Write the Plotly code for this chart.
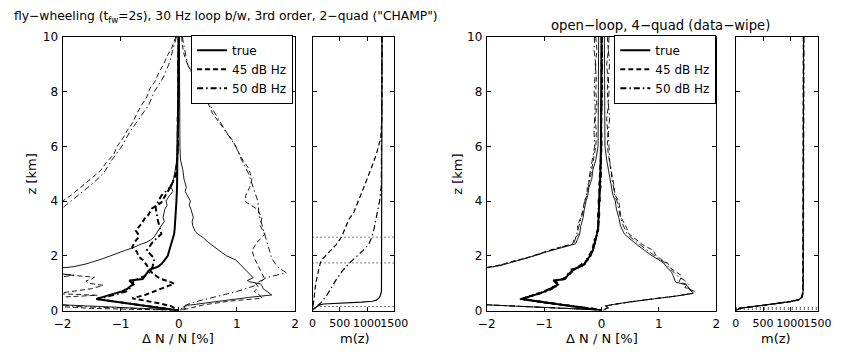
import plotly.graph_objects as go

# ---------------- data: (value, z[km]) pairs ----------------
# Left panel (fly-wheeling), Delta N / N [%]
L_TRUE_MEAN = [(0,10),(0,9.5),(-0.01,9),(0,8.5),(-0.01,8),(-0.01,7.5),(-0.01,7),(-0.02,6.5),(-0.02,6),(-0.02,5.5),
               (-0.02,5),(-0.03,4.5),(-0.04,4),(-0.05,3.5),(-0.06,3.2),(-0.07,3),(-0.08,2.8),(-0.11,2.6),(-0.13,2.4),
               (-0.16,2.2),(-0.19,2),(-0.24,1.85),(-0.3,1.7),(-0.36,1.6),(-0.5,1.5),(-0.53,1.42),(-0.55,1.35),(-0.58,1.25),
               (-0.62,1.15),(-0.85,1.1),(-0.82,1.02),(-0.78,0.95),(-0.84,0.88),(-0.88,0.8),(-0.98,0.7),(-1.12,0.6),
               (-1.3,0.5),(-1.42,0.42),(-1.0,0.3),(-0.6,0.19),(-0.3,0.11),(-0.1,0.05),(0,0)]
L_TRUE_LO = [(-0.01,10),(-0.01,8),(-0.02,6),(-0.03,5.5),(-0.06,5.14),(-0.09,4.8),(-0.13,4.5),(-0.1,4.35),(-0.16,4.2),
             (-0.22,4.0),(-0.2,3.85),(-0.24,3.7),(-0.27,3.4),(-0.25,3.25),(-0.3,3.1),(-0.36,2.9),(-0.38,2.8),(-0.42,2.7),
             (-0.47,2.6),(-0.55,2.5),(-0.68,2.4),(-0.78,2.3),(-0.92,2.2),(-1.05,2.1),(-1.15,2.0),(-1.3,1.9),(-1.45,1.8),
             (-1.6,1.7),(-1.82,1.6),(-2.0,1.55),(-2.3,1.5),(-3,0.6),(-2.4,0.25),(-2.0,0.21),(-1.4,0.16),(-0.8,0.11),
             (-0.3,0.06),(0,0.02)]
L_TRUE_HI = [(0.01,10),(0.01,8),(0.02,6),(0.03,5.5),(0.07,5.14),(0.09,4.8),(0.13,4.5),(0.11,4.35),(0.15,4.2),(0.2,4.0),
             (0.18,3.85),(0.21,3.7),(0.25,3.4),(0.23,3.25),(0.24,3.1),(0.28,2.9),(0.32,2.8),(0.42,2.67),(0.5,2.5),
             (0.6,2.35),(0.7,2.2),(0.82,2.0),(0.98,1.85),(1.05,1.7),(1.12,1.55),(1.2,1.4),(1.25,1.3),(1.28,1.2),
             (1.18,1.1),(1.22,1.05),(1.4,0.98),(1.43,0.92),(1.45,0.8),(1.52,0.7),(1.58,0.6),(1.6,0.57),(1.2,0.48),
             (0.8,0.38),(0.45,0.28),(0.15,0.19),(0.08,0.13),(0.12,0.08),(0.05,0.04),(0.02,0)]
L_45_MEAN = [(0,10),(-0.01,9),(0,8),(-0.02,7),(-0.01,6),(-0.03,5.5),(-0.05,5),(-0.12,4.6),(-0.24,4.2),(-0.3,3.95),
             (-0.46,3.73),(-0.52,3.5),(-0.58,3.38),(-0.65,3.15),(-0.74,2.92),(-0.7,2.8),(-0.69,2.68),(-0.76,2.5),
             (-0.8,2.32),(-0.72,2.15),(-0.69,1.97),(-0.62,1.85),(-0.58,1.74),(-0.52,1.55),(-0.46,1.38),(-0.38,1.25),
             (-0.3,1.15),(-0.15,1.05),(-0.08,0.98),(-0.18,0.9),(-0.3,0.8),(-0.45,0.68),(-0.58,0.57),(-0.8,0.45),
             (-0.62,0.38),(-0.46,0.33),(-0.3,0.25),(-0.13,0.16),(-0.05,0.08),(0,0)]
L_45_LO = [(-0.05,10),(-0.12,9.6),(-0.2,9.3),(-0.26,9.0),(-0.34,8.7),(-0.4,8.4),(-0.5,8.1),(-0.55,7.8),(-0.64,7.5),
           (-0.72,7.2),(-0.78,6.9),(-0.88,6.6),(-0.96,6.3),(-1.06,6.0),(-1.12,5.7),(-1.25,5.4),(-1.35,5.1),(-1.52,4.8),
           (-1.7,4.5),(-1.86,4.2),(-2.0,4.0),(-2.2,3.8),(-3,2.0),(-2.3,1.45),(-1.9,1.3),(-1.45,1.22),(-1.5,1.15),
           (-1.6,1.08),(-1.55,1.0),(-1.3,0.92),(-1.5,0.8),(-1.9,0.7),(-2.1,0.62),(-1.4,0.56),(-1.8,0.5),(-2.4,0.45),
           (-2.5,0.2),(-1.5,0.08),(-0.5,0.03),(0,0)]
L_45_HI = [(0.05,10),(0.06,9.7),(0.09,9.37),(0.15,9.0),(0.2,8.8),(0.28,8.5),(0.34,8.2),(0.43,7.85),(0.52,7.5),
           (0.58,7.2),(0.65,7.0),(0.78,6.6),(0.93,6.2),(1.0,5.9),(1.1,5.5),(1.2,5.2),(1.26,4.8),(1.22,4.5),(1.15,4.2),
           (1.15,3.97),(1.35,3.7),(1.43,3.38),(1.4,3.1),(1.48,2.79),(1.35,2.5),(1.26,2.2),(1.3,1.9),(1.37,1.62),
           (1.42,1.4),(1.48,1.15),(1.32,1.0),(1.37,0.86),(1.3,0.7),(1.4,0.55),(1.43,0.45),(0.9,0.35),(0.43,0.21),
           (0.2,0.1),(0.09,0.04),(0.02,0)]
L_50_MEAN = [(0,10),(0,9),(-0.01,8),(-0.01,7),(-0.02,6),(-0.04,5),(-0.15,4.5),(-0.3,4.2),(-0.4,3.8),(-0.36,3.3),
             (-0.3,2.8),(-0.45,2.5),(-0.55,2.2),(-0.42,1.9),(-0.45,1.6),(-0.5,1.4),(-0.6,1.25),(-0.78,1.1),(-0.8,0.9),
             (-0.9,0.7),(-1.1,0.58),(-1.28,0.5),(-1.4,0.42),(-1.0,0.3),(-0.6,0.19),(-0.3,0.11),(-0.1,0.05),(0,0)]
L_50_LO = [(-0.04,10),(-0.1,9.5),(-0.17,9.0),(-0.27,8.5),(-0.42,8.0),(-0.52,7.5),(-0.68,7.0),(-0.85,6.5),(-0.98,6.0),
           (-1.15,5.5),(-1.3,5.0),(-1.45,4.7),(-1.62,4.4),(-1.8,4.1),(-1.9,3.9),(-2.0,3.75),(-2.3,3.6),(-3,2),
           (-2.5,1.6),(-2.1,1.35),(-1.8,1.3),(-2.2,1.2),(-2.4,1.1),(-2.5,0.9),(-2.5,0.5),(-2.3,0.3),(-1.8,0.15),
           (-1.0,0.1),(-0.4,0.05),(0,0)]
L_50_HI = [(0.06,10),(0.1,9.5),(0.15,9.0),(0.26,8.5),(0.4,8.0),(0.55,7.5),(0.68,7.0),(0.82,6.5),(0.98,6.0),
           (1.08,5.5),(1.2,5.0),(1.28,4.5),(1.36,4.0),(1.38,3.5),(1.45,3.0),(1.5,2.6),(1.55,2.2),(1.6,1.9),
           (1.7,1.6),(1.85,1.38),(1.5,1.2),(1.4,1.05),(1.3,0.9),(1.0,0.7),(0.6,0.5),(0.4,0.4),(0.25,0.3),
           (0.12,0.2),(0.06,0.1),(0,0)]

# Left small panel, m(z)
L_M_TRUE = [(1275,10),(1275,2),(1272,1),(1265,0.7),(1245,0.55),(1215,0.45),(1170,0.38),(1100,0.34),(900,0.31),
            (600,0.29),(350,0.27),(200,0.24),(120,0.2),(80,0.15),(40,0.1),(10,0.05),(0,0)]
L_M_45 = [(1275,10),(1272,7),(1250,6.3),(1170,5.7),(1066,5.14),(960,4.6),(857,4.08),(760,3.6),(664,3.32),
          (600,3.0),(530,2.68),(430,2.4),(290,2.1),(190,1.9),(143,1.75),(110,1.5),(80,1.2),(54,0.92),(35,0.6),
          (20,0.3),(10,0.1),(0,0)]
L_M_50 = [(1275,10),(1275,6),(1270,5),(1262,4.56),(1230,4.0),(1185,3.5),(1130,3.0),(1090,2.7),(1036,2.44),
          (930,2.2),(820,2.0),(679,1.74),(570,1.5),(440,1.15),(350,0.85),(262,0.56),(160,0.3),(60,0.1),(0,0)]
L_THRESH_Z = [2.68, 1.74, 0.15]

# Right panel (open-loop), Delta N / N [%]
R_TRUE_MEAN = [(0,10),(0,9),(0,8),(-0.01,7),(-0.01,6),(-0.02,5),(-0.03,4.5),(-0.04,4),(-0.05,3.5),(-0.06,3),
               (-0.08,2.8),(-0.1,2.6),(-0.12,2.4),(-0.15,2.2),(-0.2,2.0),(-0.25,1.85),(-0.3,1.7),(-0.38,1.6),
               (-0.5,1.5),(-0.53,1.42),(-0.56,1.35),(-0.6,1.25),(-0.64,1.15),(-0.82,1.1),(-0.8,1.02),(-0.76,0.95),
               (-0.82,0.88),(-0.88,0.8),(-0.98,0.7),(-1.12,0.6),(-1.28,0.5),(-1.4,0.42),(-1.0,0.3),(-0.6,0.19),
               (-0.3,0.11),(-0.1,0.05),(0,0)]
R_45_MEAN = [(0.01,10),(0,9),(0.01,8),(-0.01,7),(0,6),(-0.02,5),(-0.04,4.5),(-0.03,4),(-0.06,3.5),(-0.05,3),
             (-0.09,2.8),(-0.1,2.6),(-0.14,2.4),(-0.16,2.2),(-0.22,2.0),(-0.24,1.85),(-0.33,1.7),(-0.4,1.6),
             (-0.47,1.5),(-0.55,1.42),(-0.54,1.35),(-0.63,1.25),(-0.66,1.15),(-0.8,1.1),(-0.78,1.02),(-0.8,0.95),
             (-0.8,0.88),(-0.9,0.8),(-1.0,0.7),(-1.1,0.6),(-1.3,0.5),(-1.36,0.42),(-1.02,0.3),(-0.62,0.19),
             (-0.28,0.11),(-0.1,0.05),(0,0)]
R_50_MEAN = [(0,10),(0.01,9),(0,8),(0,7),(-0.01,6),(-0.01,5),(-0.02,4.5),(-0.05,4),(-0.04,3.5),(-0.07,3),
             (-0.07,2.8),(-0.12,2.6),(-0.11,2.4),(-0.17,2.2),(-0.19,2.0),(-0.27,1.85),(-0.29,1.7),(-0.37,1.6),
             (-0.52,1.5),(-0.51,1.42),(-0.58,1.35),(-0.59,1.25),(-0.67,1.15),(-0.84,1.1),(-0.79,1.02),(-0.74,0.95),
             (-0.84,0.88),(-0.86,0.8),(-0.97,0.7),(-1.14,0.6),(-1.26,0.5),(-1.42,0.42),(-0.98,0.3),(-0.58,0.19),
             (-0.3,0.11),(-0.1,0.05),(0,0)]
R_TRUE_LO = [(-0.05,10),(-0.05,8),(-0.06,6),(-0.1,5.5),(-0.15,5.14),(-0.17,4.8),(-0.22,4.5),(-0.24,4.2),(-0.27,4.0),
             (-0.3,3.7),(-0.32,3.4),(-0.36,3.1),(-0.38,2.8),(-0.42,2.6),(-0.45,2.44),(-0.6,2.35),(-0.78,2.26),
             (-0.95,2.15),(-1.12,2.03),(-1.3,1.92),(-1.5,1.8),(-1.75,1.65),(-2.0,1.56),(-2.3,1.5),(-3,0.6),
             (-2.4,0.25),(-2.0,0.21),(-1.4,0.16),(-0.8,0.11),(-0.3,0.06),(0,0.02)]
R_TRUE_HI = [(0.05,10),(0.05,8),(0.06,6),(0.09,5.5),(0.12,5.14),(0.15,4.8),(0.18,4.5),(0.2,4.2),(0.24,4.0),
             (0.26,3.7),(0.3,3.4),(0.33,3.1),(0.4,2.79),(0.5,2.6),(0.62,2.4),(0.75,2.2),(0.88,2.0),(1.0,1.85),
             (1.08,1.74),(1.15,1.55),(1.22,1.4),(1.25,1.27),(1.29,1.04),(1.45,0.95),(1.49,0.92),(1.55,0.75),
             (1.6,0.63),(1.3,0.53),(0.9,0.43),(0.5,0.32),(0.2,0.22),(0.07,0.17),(0.12,0.1),(0.05,0.05),(0.02,0)]
R_45_LO = [(-0.1,10),(-0.08,9.5),(-0.11,9),(-0.09,8.5),(-0.1,8),(-0.08,7.5),(-0.11,7),(-0.09,6.5),(-0.1,6),
           (-0.14,5.5),(-0.18,5.14),(-0.2,4.8),(-0.25,4.5),(-0.25,4.2),(-0.3,4.0),(-0.32,3.7),(-0.36,3.4),
           (-0.42,3.1),(-0.4,2.8),(-0.48,2.6),(-0.5,2.44),(-0.68,2.35),(-0.82,2.26),(-0.98,2.15),(-1.15,2.03),
           (-1.32,1.92),(-1.55,1.8),(-1.8,1.65),(-2.05,1.56),(-2.3,1.5),(-3,0.6),(-2.4,0.25),(-2.0,0.21),
           (-1.4,0.16),(-0.8,0.11),(-0.3,0.06),(0,0.02)]
R_45_HI = [(0.1,10),(0.12,9.5),(0.09,9),(0.11,8.5),(0.1,8),(0.12,7.5),(0.09,7),(0.11,6.5),(0.1,6),(0.13,5.5),
           (0.16,5.14),(0.2,4.8),(0.22,4.5),(0.24,4.2),(0.3,4.0),(0.32,3.7),(0.34,3.4),(0.42,3.1),(0.48,2.79),
           (0.6,2.6),(0.72,2.4),(0.9,2.2),(0.95,2.0),(1.05,1.85),(1.15,1.74),(1.2,1.55),(1.3,1.4),(1.4,1.27),
           (1.35,1.04),(1.5,0.95),(1.45,0.85),(1.62,0.7),(1.58,0.63),(1.3,0.53),(0.9,0.43),(0.5,0.32),(0.2,0.22),
           (0.07,0.17),(0.1,0.1),(0.05,0.05),(0.02,0)]
R_50_LO = [(-0.12,10),(-0.13,9.5),(-0.1,9),(-0.12,8.5),(-0.13,8),(-0.11,7.5),(-0.12,7),(-0.13,6.5),(-0.12,6),
           (-0.16,5.5),(-0.2,5.14),(-0.22,4.8),(-0.23,4.5),(-0.27,4.2),(-0.29,4.0),(-0.31,3.7),(-0.35,3.4),
           (-0.38,3.1),(-0.42,2.8),(-0.45,2.6),(-0.48,2.44),(-0.64,2.35),(-0.8,2.26),(-0.96,2.15),(-1.14,2.03),
           (-1.3,1.92),(-1.52,1.8),(-1.78,1.65),(-2.02,1.56),(-2.3,1.5),(-3,0.6),(-2.4,0.25),(-2.0,0.21),
           (-1.4,0.16),(-0.8,0.11),(-0.3,0.06),(0,0.02)]
R_50_HI = [(0.13,10),(0.12,9.5),(0.14,9),(0.12,8.5),(0.13,8),(0.12,7.5),(0.14,7),(0.12,6.5),(0.13,6),(0.14,5.5),
           (0.17,5.14),(0.18,4.8),(0.21,4.5),(0.23,4.2),(0.27,4.0),(0.3,3.7),(0.33,3.4),(0.38,3.1),(0.45,2.79),
           (0.55,2.6),(0.68,2.4),(0.8,2.2),(0.92,2.0),(1.02,1.85),(1.12,1.74),(1.18,1.55),(1.26,1.4),(1.32,1.27),
           (1.45,1.1),(1.52,0.95),(1.5,0.85),(1.58,0.7),(1.6,0.63),(1.3,0.53),(0.9,0.43),(0.5,0.32),(0.2,0.22),
           (0.07,0.17),(0.12,0.1),(0.05,0.05),(0.02,0)]

# Right small panel, m(z)
R_M_TRUE = [(1245,10),(1245,2),(1242,1),(1235,0.7),(1215,0.5),(1160,0.4),(1000,0.33),(800,0.27),(530,0.19),
            (250,0.13),(80,0.09),(0,0)]
R_M_45 = [(1240,10),(1240,2),(1238,1),(1230,0.7),(1208,0.5),(1150,0.39),(990,0.32),(780,0.26),(500,0.18),
          (230,0.12),(70,0.08),(0,0)]
R_M_50 = [(1250,10),(1250,2),(1247,1),(1240,0.7),(1222,0.5),(1170,0.41),(1010,0.34),(820,0.28),(560,0.2),
          (270,0.14),(90,0.1),(0,0)]
R_THRESH_Z = [0.1, 0.05]

DN_TICKS = [-2, -1, 0, 1, 2]
M_TICKS = [0, 500, 1000, 1500]
Z_TICKS = [0, 2, 4, 6, 8, 10]
LEGEND_NAMES = ["true", "45 dB Hz", "50 dB Hz"]

# ---------------- figure ----------------
W, H = 850, 356
FONT = "DejaVu Sans, Arial, sans-serif"
SOLID, DASH, DASHDOT, DOT = "solid", "5px,3px", "6px,3px,1.5px,3px", "1px,3px"

fig = go.Figure()


def line(pts, xa, ya, dash, width, name=None, legend=None, rank=None):
    fig.add_trace(go.Scatter(
        x=[p[0] for p in pts], y=[p[1] for p in pts], mode="lines",
        xaxis=xa, yaxis=ya, line=dict(color="black", width=width, dash=dash),
        name=name, showlegend=legend is not None, legend=legend or "legend",
        legendrank=rank or 1000, hoverinfo="skip"))


# left main
for pts, d in [(L_50_LO, DASHDOT), (L_50_HI, DASHDOT), (L_45_LO, DASH), (L_45_HI, DASH),
               (L_TRUE_LO, SOLID), (L_TRUE_HI, SOLID)]:
    line(pts, "x", "y", d, 0.9)
line(L_50_MEAN, "x", "y", DASHDOT, 2, LEGEND_NAMES[2], "legend", 3)
line(L_45_MEAN, "x", "y", DASH, 2, LEGEND_NAMES[1], "legend", 2)
line(L_TRUE_MEAN, "x", "y", SOLID, 2, LEGEND_NAMES[0], "legend", 1)

# left small
for zt in L_THRESH_Z:
    line([(M_TICKS[0], zt), (M_TICKS[-1], zt)], "x2", "y2", DOT, 1)
line(L_M_50, "x2", "y2", DASHDOT, 1.2)
line(L_M_45, "x2", "y2", DASH, 1.2)
line(L_M_TRUE, "x2", "y2", SOLID, 1.2)

# right main
for pts, d in [(R_50_LO, DASHDOT), (R_50_HI, DASHDOT), (R_45_LO, DASH), (R_45_HI, DASH),
               (R_TRUE_LO, SOLID), (R_TRUE_HI, SOLID)]:
    line(pts, "x3", "y3", d, 0.9)
line(R_50_MEAN, "x3", "y3", DASHDOT, 2, LEGEND_NAMES[2], "legend2", 3)
line(R_45_MEAN, "x3", "y3", DASH, 2, LEGEND_NAMES[1], "legend2", 2)
line(R_TRUE_MEAN, "x3", "y3", SOLID, 2, LEGEND_NAMES[0], "legend2", 1)

# right small
for zt in R_THRESH_Z:
    line([(M_TICKS[0], zt), (M_TICKS[-1], zt)], "x4", "y4", DOT, 1)
line(R_M_50, "x4", "y4", DASHDOT, 1.2)
line(R_M_45, "x4", "y4", DASH, 1.2)
line(R_M_TRUE, "x4", "y4", SOLID, 1.2)

ydom = [1 - 316 / H, 1 - 31 / H]
common = dict(showline=True, linecolor="black", linewidth=1, mirror="ticks", ticks="inside",
              ticklen=4, tickwidth=1, tickcolor="black", showgrid=False, zeroline=False,
              tickfont=dict(family=FONT, size=12, color="black"), tickangle=0)

def xax(dom, rng, tv, anchor, fsize):
    return dict(common, domain=[dom[0] / W, dom[1] / W], range=rng, tickvals=tv, anchor=anchor,
                ticklabelstandoff=2, tickfont=dict(family=FONT, size=fsize, color="black"))

def yax(anchor, labels):
    return dict(common, domain=ydom, range=[0, 10], tickvals=Z_TICKS, anchor=anchor,
                showticklabels=labels, ticklabelstandoff=1)

leg = dict(xanchor="right", y=1 - 29 / H, yanchor="top", bordercolor="black", borderwidth=1,
           bgcolor="white", font=dict(family=FONT, size=12, color="black"), tracegroupgap=0,
           itemwidth=30)

fig.update_layout(
    width=W, height=H, margin=dict(l=0, r=0, t=0, b=0),
    paper_bgcolor="white", plot_bgcolor="white",
    xaxis=xax((55, 294), [-2, 2], DN_TICKS, "y", 12),
    yaxis=yax("x", True),
    xaxis2=xax((312, 396), [0, 1500], M_TICKS, "y2", 11),
    yaxis2=yax("x2", False),
    xaxis3=xax((491, 727), [-2, 2], DN_TICKS, "y3", 12),
    yaxis3=yax("x3", True),
    xaxis4=xax((747, 831), [0, 1500], M_TICKS, "y4", 11),
    yaxis4=yax("x4", False),
    legend=dict(leg, x=292 / W),
    legend2=dict(leg, x=727 / W),
)

def ann(text, x, y, size=13, xanchor="center", yanchor="middle", angle=0):
    fig.add_annotation(text=text, x=x / W, y=1 - y / H, xref="paper", yref="paper",
                       showarrow=False, xanchor=xanchor, yanchor=yanchor, textangle=angle,
                       font=dict(family=FONT, size=size, color="black"))

ann('fly\u2212wheeling (t<sub>fw</sub>=2s), 30 Hz loop b/w, 3rd order, 2\u2212quad ("CHAMP")',
    3, 10, size=12.3, xanchor="left")
ann("open\u2212loop, 4\u2212quad (data\u2212wipe)", 555, 19, size=13.2, xanchor="left")
ann("z [km]", 23, 174, angle=-90)
ann("z [km]", 461, 174, angle=-90)
ann("\u0394 N / N [%]", 174, 345)
ann("\u0394 N / N [%]", 610, 345)
ann("m(z)", 356, 345)
ann("m(z)", 788, 345)

fig.write_html("out.html")
